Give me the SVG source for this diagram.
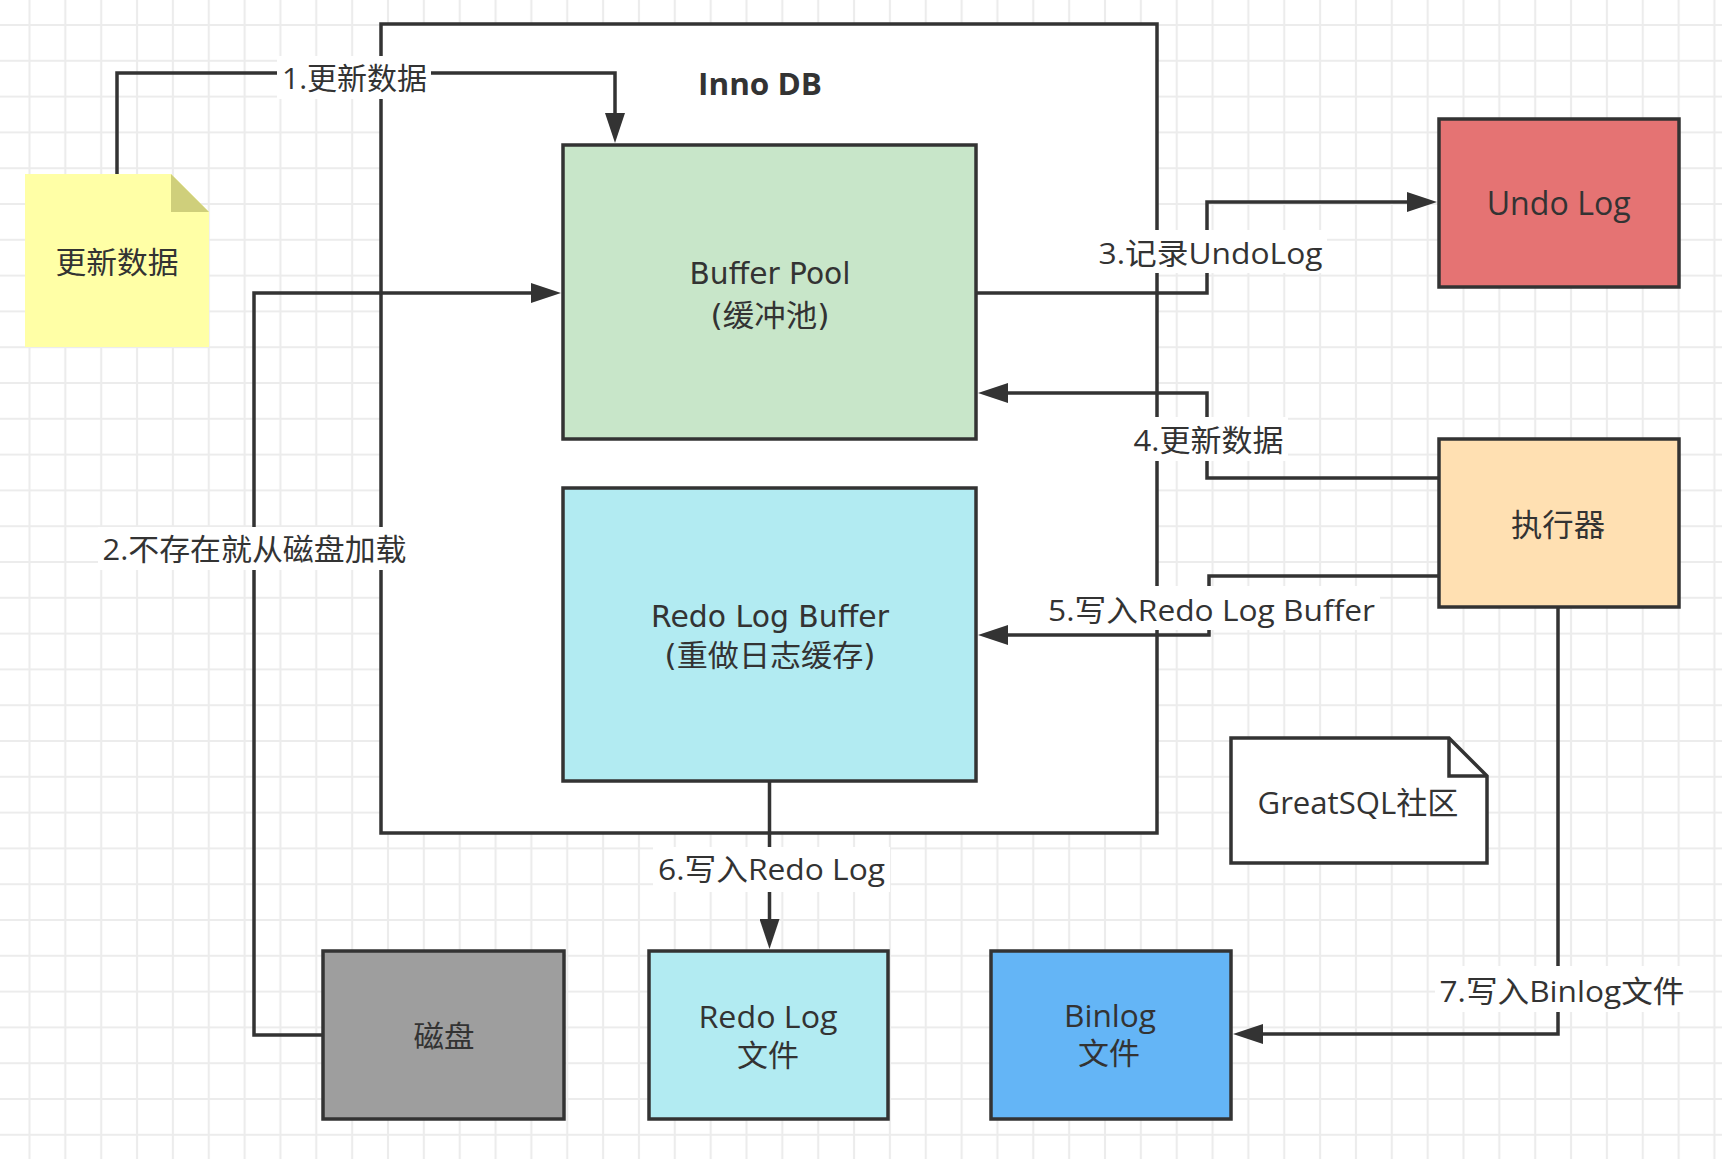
<svg xmlns="http://www.w3.org/2000/svg" width="1722" height="1159" viewBox="0 0 1722 1159">
<defs>
<style>
.box{stroke:#333;stroke-width:3.5;stroke-linejoin:miter}
.t{font-family:"Open Sans","Noto Sans CJK SC",sans-serif;fill:#333;text-anchor:middle}
.v{font-family:"DejaVu Sans","Noto Sans CJK SC",sans-serif;fill:#333;text-anchor:middle}
.edge{fill:none;stroke:#333;stroke-width:3.5}
.lbg{fill:#fff}
.lbl{font-size:30px}
</style>
<pattern id="grid" patternUnits="userSpaceOnUse" x="11.575" y="7.1" width="35.85" height="35.8">
<rect width="35.85" height="35.8" fill="#fff"/>
<path d="M17.925 0V35.8M0 17.9H35.85" stroke="#ececec" stroke-width="2" fill="none"/>
</pattern>
<marker id="arrow" markerUnits="userSpaceOnUse" viewBox="0 0 30 20" markerWidth="30" markerHeight="20" refX="4" refY="10" orient="auto">
<path d="M0 0L30 10L0 20z" fill="#333"/>
</marker>
</defs>
<rect width="1722" height="1159" fill="url(#grid)"/>

<g id="innodb">
<rect class="box" x="381" y="24" width="776" height="809" fill="#fff"/>
<text class="t" x="760" y="95" font-size="30" font-weight="bold" textLength="124" lengthAdjust="spacingAndGlyphs">Inno DB</text>
</g>

<g id="note-update">
<path d="M25 174H171L209 212V347H25Z" fill="#ffffa6"/>
<path d="M171 174V212H209Z" fill="#cfcf7b"/>
<text class="t" x="117" y="272.5" font-size="30" textLength="123" lengthAdjust="spacingAndGlyphs">更新数据</text>
</g>

<g id="buffer-pool">
<rect class="box" x="563" y="145" width="413" height="294" fill="#c8e6c9"/>
<text class="v" x="770" y="284" font-size="30" textLength="161" lengthAdjust="spacingAndGlyphs">Buffer Pool</text>
<text class="v" x="770" y="325.5" font-size="30" textLength="119" lengthAdjust="spacingAndGlyphs">(缓冲池)</text>
</g>

<g id="redo-log-buffer">
<rect class="box" x="563" y="488" width="413" height="293" fill="#b2ebf2"/>
<text class="v" x="770" y="627" font-size="30" textLength="238" lengthAdjust="spacingAndGlyphs">Redo Log Buffer</text>
<text class="v" x="770" y="665.5" font-size="30" textLength="211" lengthAdjust="spacingAndGlyphs">(重做日志缓存)</text>
</g>

<g id="undo-log">
<rect class="box" x="1439" y="119" width="240" height="168" fill="#e57373"/>
<text class="t" x="1558.7" y="215" font-size="33" textLength="144" lengthAdjust="spacingAndGlyphs">Undo Log</text>
</g>

<g id="executor">
<rect class="box" x="1439" y="439" width="240" height="168" fill="#ffe0b2"/>
<text class="t" x="1558" y="536" font-size="31" textLength="94" lengthAdjust="spacingAndGlyphs">执行器</text>
</g>

<g id="note-greatsql">
<path class="box" d="M1231 738H1449L1487 776V863H1231Z" fill="#fff"/>
<path class="box" d="M1449 738V776H1487" fill="none"/>
<text class="t" x="1358" y="813.5" font-size="31" textLength="201" lengthAdjust="spacingAndGlyphs">GreatSQL社区</text>
</g>

<g id="disk">
<rect class="box" x="323" y="951" width="241" height="168" fill="#9e9e9e"/>
<text class="t" x="444" y="1046.5" font-size="30" textLength="61" lengthAdjust="spacingAndGlyphs">磁盘</text>
</g>

<g id="redo-log-file">
<rect class="box" x="649" y="951" width="239" height="168" fill="#b2ebf2"/>
<text class="t" x="768" y="1028" font-size="31" textLength="139" lengthAdjust="spacingAndGlyphs">Redo Log</text>
<text class="t" x="768" y="1065.5" font-size="30" textLength="62" lengthAdjust="spacingAndGlyphs">文件</text>
</g>

<g id="binlog-file">
<rect class="box" x="991" y="951" width="240" height="168" fill="#64b5f6"/>
<text class="t" x="1110" y="1027" font-size="31" textLength="92" lengthAdjust="spacingAndGlyphs">Binlog</text>
<text class="t" x="1109" y="1064" font-size="30" textLength="62" lengthAdjust="spacingAndGlyphs">文件</text>
</g>

<g id="connectors">
<path class="edge" d="M117 174V73H615V117" marker-end="url(#arrow)"/>
<path class="edge" d="M323 1035H254V293H535" marker-end="url(#arrow)"/>
<path class="edge" d="M976 293H1207V202H1411" marker-end="url(#arrow)"/>
<path class="edge" d="M1439 478H1207V393H1004" marker-end="url(#arrow)"/>
<path class="edge" d="M1439 576H1209V635H1004" marker-end="url(#arrow)"/>
<path class="edge" d="M769.5 781V923" marker-end="url(#arrow)"/>
<path class="edge" d="M1558 607V1034H1259" marker-end="url(#arrow)"/>

<rect class="lbg" x="277" y="56" width="154" height="43"/>
<text class="t lbl" x="354.5" y="89" textLength="145" lengthAdjust="spacingAndGlyphs">1.更新数据</text>

<rect class="lbg" x="98" y="527" width="313" height="43"/>
<text class="t lbl" x="254.5" y="560" textLength="304" lengthAdjust="spacingAndGlyphs">2.不存在就从磁盘加载</text>

<rect class="lbg" x="1094" y="230" width="233" height="43"/>
<text class="t lbl" x="1210.5" y="263.5" textLength="224" lengthAdjust="spacingAndGlyphs">3.记录UndoLog</text>

<rect class="lbg" x="1129" y="417" width="159" height="44"/>
<text class="t lbl" x="1208.5" y="450.5" textLength="150" lengthAdjust="spacingAndGlyphs">4.更新数据</text>

<rect class="lbg" x="1043" y="586" width="337" height="44"/>
<text class="t lbl" x="1211.5" y="620.5" textLength="327" lengthAdjust="spacingAndGlyphs">5.写入Redo Log Buffer</text>

<rect class="lbg" x="653" y="847" width="237" height="45"/>
<text class="t lbl" x="771.5" y="880" textLength="227" lengthAdjust="spacingAndGlyphs">6.写入Redo Log</text>

<rect class="lbg" x="1435" y="966" width="254" height="46"/>
<text class="t lbl" x="1562" y="1001.5" textLength="245" lengthAdjust="spacingAndGlyphs">7.写入Binlog文件</text>
</g>
</svg>
